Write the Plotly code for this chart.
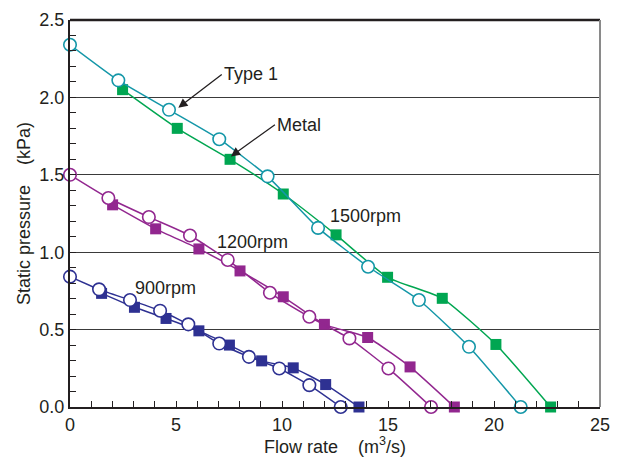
import plotly.graph_objects as go

# ---- data ----
t1_1500_x = [0, 2.28, 4.67, 7.04, 9.32, 11.7, 14.06, 16.46, 18.82, 21.26]
t1_1500_y = [2.34, 2.11, 1.92, 1.73, 1.49, 1.157, 0.906, 0.691, 0.389, 0.0]
m_1500_x = [2.48, 5.06, 7.55, 10.06, 12.55, 14.98, 17.56, 20.09, 22.67]
m_1500_y = [2.05, 1.80, 1.60, 1.376, 1.112, 0.838, 0.702, 0.404, 0.0]

t1_1200_x = [0, 1.81, 3.72, 5.66, 7.44, 9.43, 11.29, 13.18, 15.02, 17.03]
t1_1200_y = [1.50, 1.35, 1.227, 1.108, 0.950, 0.738, 0.583, 0.443, 0.249, 0.0]
m_1200_x = [2.01, 4.04, 6.08, 8.02, 10.06, 12.0, 14.04, 16.04, 18.13]
m_1200_y = [1.306, 1.151, 1.021, 0.879, 0.712, 0.534, 0.449, 0.259, 0.0]

t1_900_x = [0, 1.37, 2.83, 4.25, 5.58, 7.04, 8.44, 9.87, 11.29, 12.77]
t1_900_y = [0.842, 0.760, 0.691, 0.622, 0.534, 0.41, 0.324, 0.249, 0.141, 0.0]
m_900_x = [1.49, 3.04, 4.53, 6.08, 7.52, 9.04, 10.53, 12.06, 13.63]
m_900_y = [0.734, 0.644, 0.572, 0.492, 0.40, 0.298, 0.253, 0.145, 0.0]

x_ticks = [0, 5, 10, 15, 20, 25]
y_ticks = [0.0, 0.5, 1.0, 1.5, 2.0, 2.5]
y_tick_labels = ["0.0", "0.5", "1.0", "1.5", "2.0", "2.5"]

C1500_T = "#1497a8"
C1500_M = "#00a651"
C1200 = "#92278f"
C900 = "#2e3192"
TXT = "#231f20"
FONT = "Liberation Sans, Arial, sans-serif"

fig = go.Figure()

def add_series(x, y, color, kind):
    if kind == "circle":
        marker = dict(symbol="circle", size=12.5, color="white",
                      line=dict(color=color, width=1.6))
    else:
        marker = dict(symbol="square", size=11, color=color,
                      line=dict(color=color, width=0))
    fig.add_trace(go.Scatter(
        x=x, y=y, mode="lines+markers",
        line=dict(color=color, width=1.5, shape="spline", smoothing=0.5),
        marker=marker, cliponaxis=False, showlegend=False))

add_series(m_1500_x, m_1500_y, C1500_M, "square")
add_series(t1_1500_x, t1_1500_y, C1500_T, "circle")
add_series(m_1200_x, m_1200_y, C1200, "square")
add_series(t1_1200_x, t1_1200_y, C1200, "circle")
add_series(m_900_x, m_900_y, C900, "square")
add_series(t1_900_x, t1_900_y, C900, "circle")

fs = 18
# plain text labels
for txt, x, y in [("1500rpm", 12.18, 1.231), ("1200rpm", 6.84, 1.069),
                  ("900rpm", 2.96, 0.767)]:
    fig.add_annotation(x=x, y=y, text=txt, showarrow=False, xanchor="left",
                       yanchor="middle", font=dict(family=FONT, size=fs, color=TXT))

# labels with arrows (text sits at the arrow tail)
for txt, hx, hy, ax, ay in [("Type 1", 5.11, 1.933, 43.4, -33.3),
                            ("Metal", 7.59, 1.619, 44, -31.7)]:
    fig.add_annotation(x=hx, y=hy, ax=ax, ay=ay, text=txt, showarrow=True,
                       xanchor="left", yanchor="middle",
                       arrowhead=2, arrowsize=1.4, arrowwidth=1.3,
                       arrowcolor="#231f20", standoff=0, borderpad=1,
                       font=dict(family=FONT, size=fs, color=TXT))

# frame lines: top black, right gray
fig.add_shape(type="line", xref="paper", yref="paper", x0=0, x1=1, y0=1, y1=1,
              line=dict(color="#231f20", width=2.5))
fig.add_shape(type="line", xref="paper", yref="paper", x0=1, x1=1, y0=0, y1=1,
              line=dict(color="#8a8a8a", width=2))

# page body has an 8px margin, so the figure is sized to fit the window
fig.update_layout(
    width=615, height=449,
    margin=dict(l=62, r=23, t=12, b=50, autoexpand=False),
    paper_bgcolor="white", plot_bgcolor="white",
    font=dict(family=FONT, size=fs, color=TXT),
    xaxis=dict(range=[0, 25], tickvals=x_ticks, ticktext=[str(v) for v in x_ticks],
               automargin=False,
               showgrid=False, zeroline=False, showline=True, linecolor="#231f20",
               linewidth=2, ticks="inside", ticklen=6, tickcolor="#231f20",
               minor=dict(dtick=1, ticks="inside", ticklen=6, tickcolor="#231f20"),
               title=dict(text="Flow rate\u00a0\u00a0\u00a0\u00a0(m<sup>3</sup>/s)",
                          standoff=7, font=dict(size=fs)),
               tickfont=dict(size=fs)),
    yaxis=dict(range=[0, 2.5], tickvals=y_ticks, ticktext=y_tick_labels,
               automargin=False,
               showgrid=True, gridcolor="#3a3a3a", gridwidth=1.2,
               zeroline=False, showline=True, linecolor="#231f20", linewidth=2,
               ticks="inside", ticklen=6, tickcolor="#231f20",
               minor=dict(dtick=0.1, ticks="inside", ticklen=6, tickcolor="#231f20",
                          showgrid=False),
               title=dict(text="Static pressure\u00a0\u00a0\u00a0\u00a0(kPa)",
                          standoff=4, font=dict(size=fs)),
               tickfont=dict(size=fs)),
)

fig.write_html("out.html")
